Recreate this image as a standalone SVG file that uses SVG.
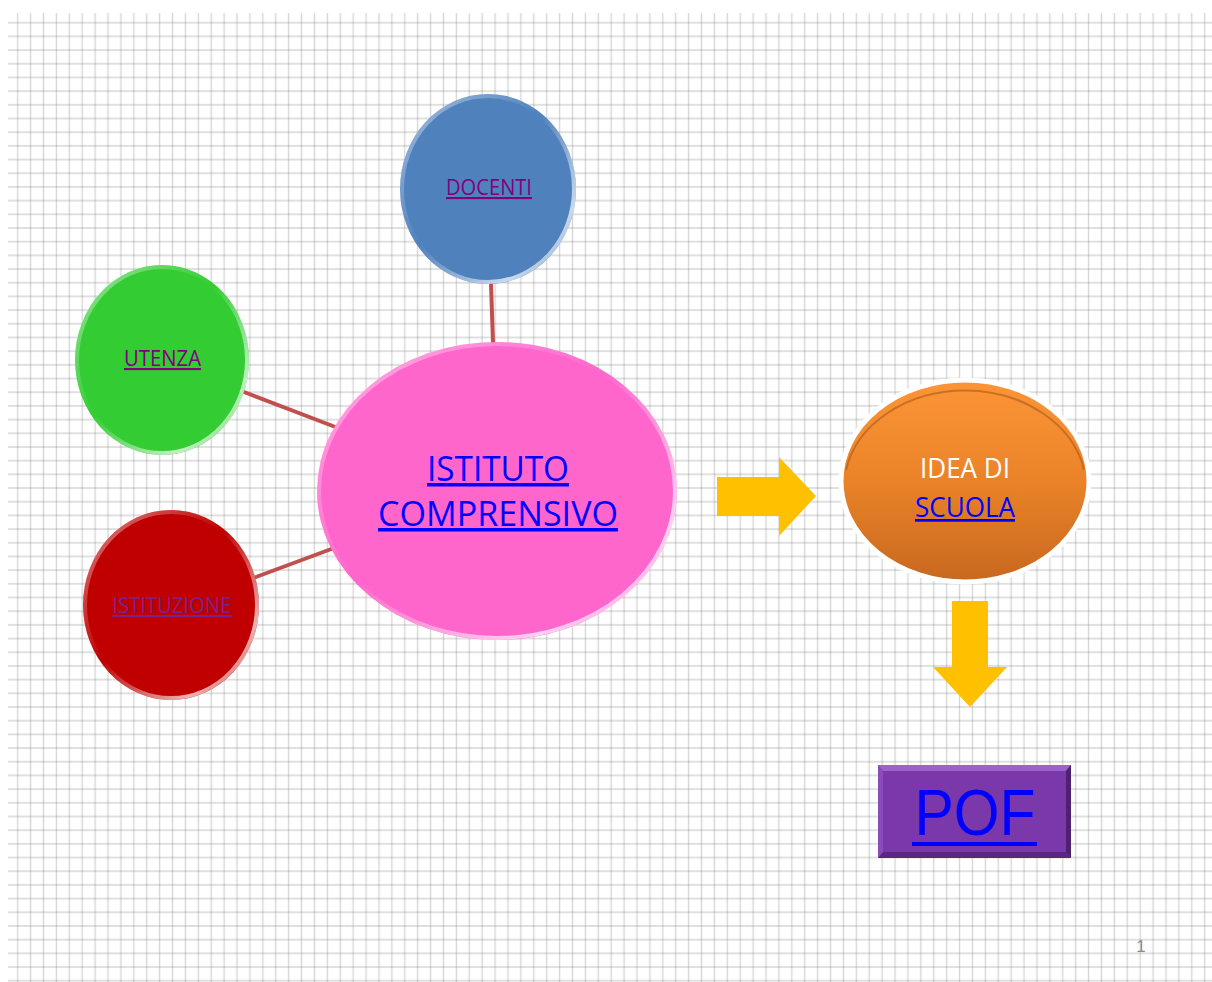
<svg xmlns="http://www.w3.org/2000/svg" width="1212" height="982" viewBox="0 0 1212 982">
<style>
.lbl{font-family:"Open Sans","Liberation Sans",sans-serif;text-decoration:underline;}
.small{font-size:21px;fill:#800080;}
.conn{stroke:#c0504d;stroke-width:4;stroke-linecap:round;fill:none;}
.arrow{fill:#ffc000;}
.rim{fill:none;stroke:url(#rimGrad);stroke-width:4;}
</style>
<defs>
<pattern id="gv" patternUnits="userSpaceOnUse" x="11.25" y="0" width="12.902" height="982">
<line x1="6.45" y1="0" x2="6.45" y2="982" stroke="#808080" stroke-opacity="0.32" stroke-width="1.4"/>
</pattern>
<pattern id="gh" patternUnits="userSpaceOnUse" x="0" y="15.86" width="1212" height="13.686">
<line x1="0" y1="6.843" x2="1212" y2="6.843" stroke="#808080" stroke-opacity="0.32" stroke-width="1.4"/>
</pattern>
<linearGradient id="rimGrad" x1="0" y1="0" x2="1" y2="1">
<stop offset="0" stop-color="#ffffff" stop-opacity="0.5"/>
<stop offset="0.45" stop-color="#ffffff" stop-opacity="0"/>
<stop offset="0.8" stop-color="#ffffff" stop-opacity="0.7"/>
<stop offset="1" stop-color="#ffffff" stop-opacity="0.2"/>
</linearGradient>
<linearGradient id="orange" x1="0" y1="0" x2="0" y2="1">
<stop offset="0" stop-color="#fd9537"/>
<stop offset="0.5" stop-color="#ea8328"/>
<stop offset="1" stop-color="#c8681f"/>
</linearGradient>
</defs>
<rect width="1212" height="982" fill="#ffffff"/>
<g id="grid">
<rect x="8" y="13" width="1204" height="969" fill="url(#gv)"/>
<rect x="8" y="13" width="1204" height="969" fill="url(#gh)"/>
</g>
<g id="connectors">
<line class="conn" x1="491" y1="284" x2="493" y2="343"/>
<line class="conn" x1="244" y1="392" x2="338" y2="428"/>
<line class="conn" x1="256" y1="577" x2="334" y2="548"/>
<polygon class="arrow" points="717,477 779,477 779,457 816,496 779,536 779,516 717,516"/>
<polygon class="arrow" points="952,601 988,601 988,667 1007,667 970,707 933,667 952,667"/>
</g>
<g id="docenti">
<ellipse cx="488" cy="189" rx="88" ry="95" fill="#4f81bd"/>
<ellipse cx="488" cy="189" rx="86" ry="93" class="rim"/>
<text class="lbl small" x="489" y="195" text-anchor="middle" textLength="86" lengthAdjust="spacingAndGlyphs">DOCENTI</text>
</g>
<g id="utenza">
<ellipse cx="162" cy="360" rx="87" ry="95" fill="#33cc33"/>
<ellipse cx="162" cy="360" rx="85" ry="93" class="rim"/>
<text class="lbl small" x="162.5" y="366" text-anchor="middle" textLength="77" lengthAdjust="spacingAndGlyphs">UTENZA</text>
</g>
<g id="istituzione">
<ellipse cx="171" cy="605" rx="88" ry="95" fill="#c00000"/>
<ellipse cx="171" cy="605" rx="86" ry="93" class="rim"/>
<text class="lbl small" x="172" y="613" text-anchor="middle" textLength="119" lengthAdjust="spacingAndGlyphs" fill="#7a2090" style="fill:#7a2090">ISTITUZIONE</text>
</g>
<g id="istituto">
<ellipse cx="497" cy="491" rx="180" ry="149" fill="#ff66cc"/>
<ellipse cx="497" cy="491" rx="178" ry="147" class="rim"/>
<text class="lbl" x="498" y="481" text-anchor="middle" font-size="35" fill="#0000ff" textLength="142" lengthAdjust="spacingAndGlyphs">ISTITUTO</text>
<text class="lbl" x="498" y="526" text-anchor="middle" font-size="35" fill="#0000ff" textLength="240" lengthAdjust="spacingAndGlyphs">COMPRENSIVO</text>
</g>
<g id="idea">
<ellipse cx="965" cy="481" rx="124" ry="101" fill="url(#orange)" stroke="#ffffff" stroke-width="5"/>
<path d="M846,470 A121,97 0 0 1 1084,470" fill="none" stroke="#a85a18" stroke-width="2" stroke-opacity="0.6"/>
<text x="965" y="478" text-anchor="middle" font-family="Open Sans, Liberation Sans, sans-serif" font-size="27" fill="#ffffff" textLength="90" lengthAdjust="spacingAndGlyphs">IDEA DI</text>
<text class="lbl" x="965" y="517" text-anchor="middle" font-size="27" fill="#0000ff" textLength="100" lengthAdjust="spacingAndGlyphs">SCUOLA</text>
</g>
<g id="pof">
<rect x="878" y="765" width="193" height="93" fill="#7a38aa"/>
<polygon points="878,765 1071,765 1066,771 883,771" fill="#9b62cc"/>
<polygon points="1071,765 1071,858 1066,852 1066,771" fill="#4e2270"/>
<polygon points="878,858 1071,858 1066,852 883,852" fill="#5a2780"/>
<polygon points="878,765 883,771 883,852 878,858" fill="#8a4cbb"/>
<text x="975" y="835" text-anchor="middle" font-family="Liberation Sans, Arial, sans-serif" font-size="64" fill="#0000ff" textLength="121" lengthAdjust="spacingAndGlyphs">POF</text>
<rect x="912" y="842" width="125" height="4" fill="#0000ff"/>
</g>
<text id="pagenum" x="1141" y="952" text-anchor="middle" font-family="Liberation Sans, Arial, sans-serif" font-size="17" fill="#8c8c8c">1</text>
</svg>
